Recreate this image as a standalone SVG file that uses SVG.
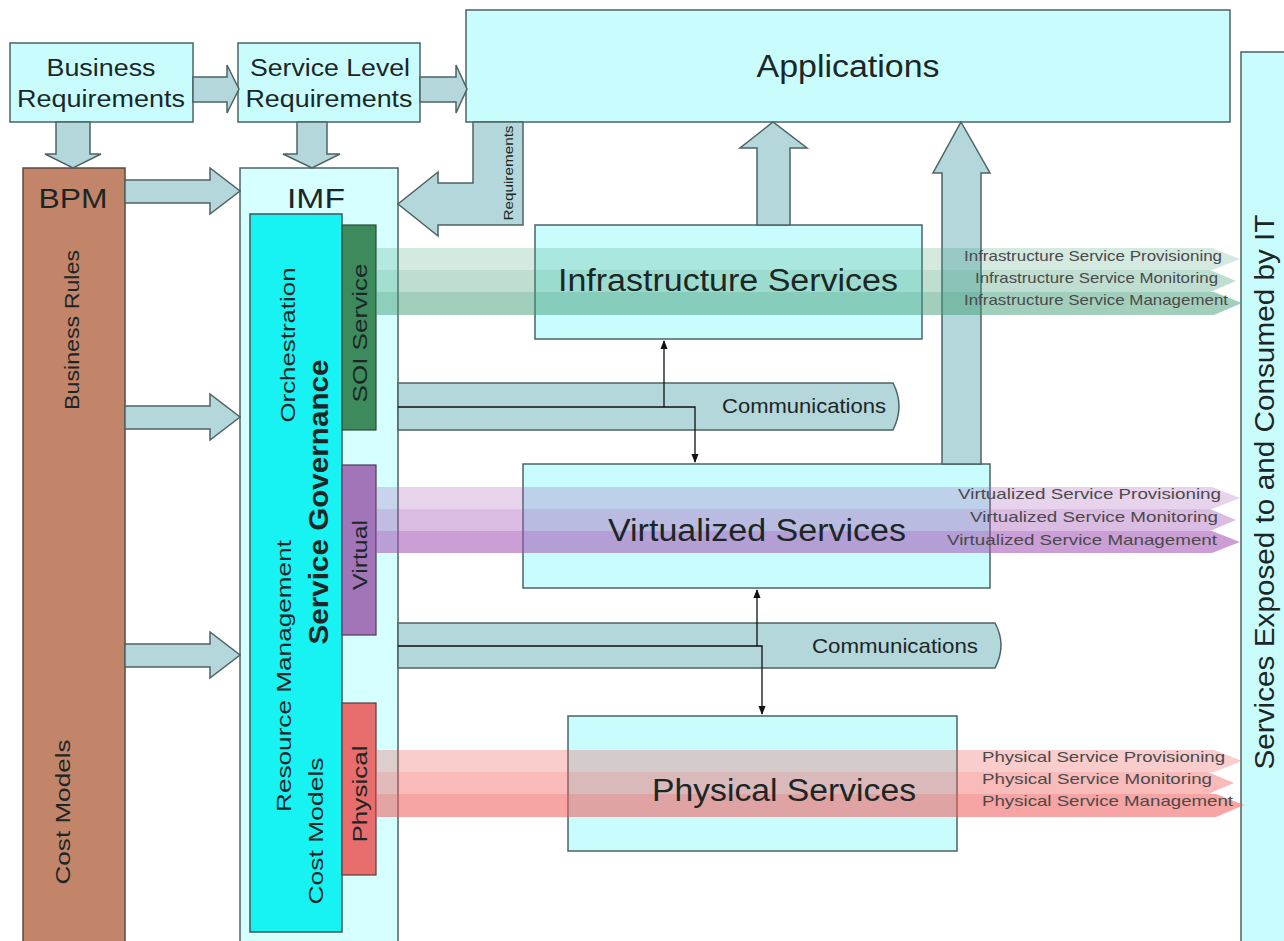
<svg xmlns="http://www.w3.org/2000/svg" width="1284" height="941" viewBox="0 0 1284 941">
  <defs>
    <style>
      .box { fill: #c9fdfd; stroke: #4d6363; stroke-width: 1.5; }
      .imf { fill: #d6ffff; stroke: #4d6363; stroke-width: 1.5; }
      .blk { fill: #b3d7db; stroke: #4d6363; stroke-width: 1.5; stroke-linejoin: miter; }
      .t { font-family: "Liberation Sans", Arial, sans-serif; fill: #1c2626; }
      .mid { text-anchor: middle; }
      .small { font-family: "Liberation Sans", Arial, sans-serif; font-size: 15px; fill: #4a4a4a; }
      .wire { fill: none; stroke: #111; stroke-width: 1.3; }
    </style>
    <marker id="tip" viewBox="0 0 10 10" refX="9" refY="5" markerWidth="7" markerHeight="7" orient="auto">
      <path d="M0,1 L10,5 L0,9 Z" fill="#111"/>
    </marker>
  </defs>

  <rect width="1284" height="941" fill="#ffffff"/>

  <!-- Requirement sources -->
  <g id="business-requirements">
    <rect class="box" x="10" y="43" width="183" height="79"/>
    <text class="t mid" x="101" y="76" font-size="23" textLength="109" lengthAdjust="spacingAndGlyphs">Business</text>
    <text class="t mid" x="101" y="107" font-size="23" textLength="168" lengthAdjust="spacingAndGlyphs">Requirements</text>
  </g>
  <g id="service-level-requirements">
    <rect class="box" x="238" y="43" width="182" height="79"/>
    <text class="t mid" x="330" y="76" font-size="23" textLength="160" lengthAdjust="spacingAndGlyphs">Service Level</text>
    <text class="t mid" x="329" y="107" font-size="23" textLength="167" lengthAdjust="spacingAndGlyphs">Requirements</text>
  </g>
  <g id="applications">
    <rect class="box" x="466" y="10" width="764" height="112"/>
    <text class="t mid" x="848" y="77" font-size="31" textLength="183" lengthAdjust="spacingAndGlyphs">Applications</text>
  </g>
  <g id="services-exposed">
    <rect class="box" x="1241" y="52" width="60" height="900"/>
    <text class="t mid" transform="translate(1265,492) rotate(-90)" x="0" y="9" font-size="27" textLength="555" lengthAdjust="spacingAndGlyphs">Services Exposed to and Consumed by IT</text>
  </g>

  <!-- Business process management column -->
  <g id="bpm">
    <rect x="23" y="168" width="102" height="790" fill="#c2856a" stroke="#5a4a40" stroke-width="1.5"/>
    <text class="t mid" x="73" y="208" font-size="27" textLength="69" lengthAdjust="spacingAndGlyphs">BPM</text>
    <text class="t mid" transform="translate(72,330) rotate(-90)" x="0" y="7" font-size="21" textLength="160" lengthAdjust="spacingAndGlyphs">Business Rules</text>
    <text class="t mid" transform="translate(63,812) rotate(-90)" x="0" y="7" font-size="21" textLength="145" lengthAdjust="spacingAndGlyphs">Cost Models</text>
  </g>

  <!-- Infrastructure management framework -->
  <g id="imf">
    <rect class="imf" x="240" y="168" width="158" height="790"/>
    <text class="t mid" x="316" y="208" font-size="27" textLength="58" lengthAdjust="spacingAndGlyphs">IMF</text>
  </g>
  <g id="service-governance">
    <rect x="250" y="214" width="92" height="718" fill="#17f2f2" stroke="#3d5858" stroke-width="1.5"/>
    <text class="t mid" transform="translate(288,345) rotate(-90)" x="0" y="7" font-size="21" fill="#10404a" textLength="155" lengthAdjust="spacingAndGlyphs">Orchestration</text>
    <text class="t mid" transform="translate(318,502) rotate(-90)" x="0" y="10" font-size="28" font-weight="bold" textLength="285" lengthAdjust="spacingAndGlyphs">Service Governance</text>
    <text class="t mid" transform="translate(284,676) rotate(-90)" x="0" y="7" font-size="21" textLength="272" lengthAdjust="spacingAndGlyphs">Resource Management</text>
    <text class="t mid" transform="translate(316,831) rotate(-90)" x="0" y="7" font-size="21" textLength="147" lengthAdjust="spacingAndGlyphs">Cost Models</text>
  </g>
  <g id="soi-service">
    <rect x="342" y="225" width="34" height="205" fill="#3d8b5c" stroke="#2e4a3a" stroke-width="1.2"/>
    <text class="t mid" transform="translate(360,333) rotate(-90)" x="0" y="7" font-size="21" textLength="139" lengthAdjust="spacingAndGlyphs">SOI Service</text>
  </g>
  <g id="virtual">
    <rect x="342" y="465" width="34" height="170" fill="#a274b8" stroke="#4e3a5a" stroke-width="1.2"/>
    <text class="t mid" transform="translate(360,555) rotate(-90)" x="0" y="7" font-size="21" textLength="70" lengthAdjust="spacingAndGlyphs">Virtual</text>
  </g>
  <g id="physical">
    <rect x="342" y="703" width="34" height="172" fill="#e86e6e" stroke="#5a3a3a" stroke-width="1.2"/>
    <text class="t mid" transform="translate(360,794) rotate(-90)" x="0" y="7" font-size="21" textLength="97" lengthAdjust="spacingAndGlyphs">Physical</text>
  </g>

  <!-- Service layers -->
  <g id="infrastructure-services">
    <rect class="box" x="535" y="225" width="387" height="114"/>
  </g>
  <g id="virtualized-services">
    <rect class="box" x="523" y="464" width="467" height="124"/>
  </g>
  <g id="physical-services">
    <rect class="box" x="568" y="716" width="389" height="135"/>
  </g>

  <!-- Connectors: block arrows, communication buses and links -->
  <g id="connectors">
    <polygon class="blk" points="193,77 227,77 227,65 239,89 227,113 227,102 193,102"/>
    <polygon class="blk" points="420,77 456,77 456,65 467,89 456,113 456,102 420,102"/>
    <polygon class="blk" points="56,122 90,122 90,154 101,154 73,168 45,154 56,154"/>
    <polygon class="blk" points="297,122 327,122 327,154 340,154 312,168 283,154 297,154"/>
    <polygon class="blk" points="125,180 210,180 210,168 240,191 210,214 210,203 125,203"/>
    <polygon class="blk" points="125,406 210,406 210,394 240,417 210,440 210,429 125,429"/>
    <polygon class="blk" points="125,644 210,644 210,632 240,655 210,678 210,667 125,667"/>
    <polygon class="blk" points="473,122 523,122 523,225 438,225 438,236 398,204 438,172 438,183 473,183"/>
    <text class="t mid" transform="translate(509,173) rotate(-90)" x="0" y="4" font-size="12" textLength="95" lengthAdjust="spacingAndGlyphs">Requirements</text>
    <polygon class="blk" points="757,225 757,148 740,148 773,122 807,148 790,148 790,225"/>
    <polygon class="blk" points="942,464 942,173 933,173 961,122 990,173 981,173 981,464"/>

    <path class="blk" d="M398,383 H893 Q905,406 893,430 H398 Z"/>
    <text class="t mid" x="804" y="413" font-size="21" fill="#3a4a4a" textLength="164" lengthAdjust="spacingAndGlyphs">Communications</text>
    <path class="blk" d="M398,623 H995 Q1007,645 995,668 H398 Z"/>
    <text class="t mid" x="895" y="653" font-size="21" fill="#3a4a4a" textLength="166" lengthAdjust="spacingAndGlyphs">Communications</text>

    <path class="wire" d="M398,407 H695 V462" marker-end="url(#tip)"/>
    <path class="wire" d="M664,407 V341" marker-end="url(#tip)"/>
    <path class="wire" d="M398,646 H762 V714" marker-end="url(#tip)"/>
    <path class="wire" d="M757,646 V590" marker-end="url(#tip)"/>
  </g>

  <!-- Provisioning / monitoring / management channels -->
  <g id="infrastructure-channels">
    <polygon fill="rgb(60,155,115)" fill-opacity="0.22" points="376,248 1212,248 1240,259 1212,270 376,270"/>
    <polygon fill="rgb(60,155,115)" fill-opacity="0.33" points="376,270 1210,270 1236,281 1210,292 376,292"/>
    <polygon fill="rgb(60,155,115)" fill-opacity="0.48" points="376,292 1214,292 1242,303 1214,315 376,315"/>
  </g>
  <g id="virtualized-channels">
    <polygon fill="rgb(160,80,180)" fill-opacity="0.25" points="376,487 1212,487 1240,498 1212,509 376,509"/>
    <polygon fill="rgb(160,80,180)" fill-opacity="0.38" points="376,509 1210,509 1236,520 1210,531 376,531"/>
    <polygon fill="rgb(160,80,180)" fill-opacity="0.55" points="376,531 1212,531 1240,542 1212,553 376,553"/>
  </g>
  <g id="physical-channels">
    <polygon fill="rgb(240,90,90)" fill-opacity="0.3" points="376,750 1214,750 1242,761 1214,772 376,772"/>
    <polygon fill="rgb(240,90,90)" fill-opacity="0.42" points="376,772 1208,772 1234,783 1208,794 376,794"/>
    <polygon fill="rgb(240,90,90)" fill-opacity="0.55" points="376,794 1216,794 1244,805 1216,817 376,817"/>
  </g>

  <!-- Layer labels -->
  <g id="layer-labels">
    <text class="t mid" x="728" y="291" font-size="31" fill="#1d3a34" textLength="340" lengthAdjust="spacingAndGlyphs">Infrastructure Services</text>
    <text class="t mid" x="757" y="541" font-size="31" fill="#2a2a40" textLength="298" lengthAdjust="spacingAndGlyphs">Virtualized Services</text>
    <text class="t mid" x="784" y="801" font-size="31" fill="#3a2a2a" textLength="264" lengthAdjust="spacingAndGlyphs">Physical Services</text>

    <text class="small" x="964" y="261" textLength="258" lengthAdjust="spacingAndGlyphs">Infrastructure Service Provisioning</text>
    <text class="small" x="975" y="283" textLength="243" lengthAdjust="spacingAndGlyphs">Infrastructure Service Monitoring</text>
    <text class="small" x="964" y="305" textLength="264" lengthAdjust="spacingAndGlyphs">Infrastructure Service Management</text>

    <text class="small" x="958" y="499" textLength="263" lengthAdjust="spacingAndGlyphs">Virtualized Service Provisioning</text>
    <text class="small" x="970" y="522" textLength="248" lengthAdjust="spacingAndGlyphs">Virtualized Service Monitoring</text>
    <text class="small" x="947" y="545" textLength="270" lengthAdjust="spacingAndGlyphs">Virtualized Service Management</text>

    <text class="small" x="982" y="762" textLength="243" lengthAdjust="spacingAndGlyphs">Physical Service Provisioning</text>
    <text class="small" x="982" y="784" textLength="230" lengthAdjust="spacingAndGlyphs">Physical Service Monitoring</text>
    <text class="small" x="982" y="806" textLength="251" lengthAdjust="spacingAndGlyphs">Physical Service Management</text>
  </g>
</svg>
